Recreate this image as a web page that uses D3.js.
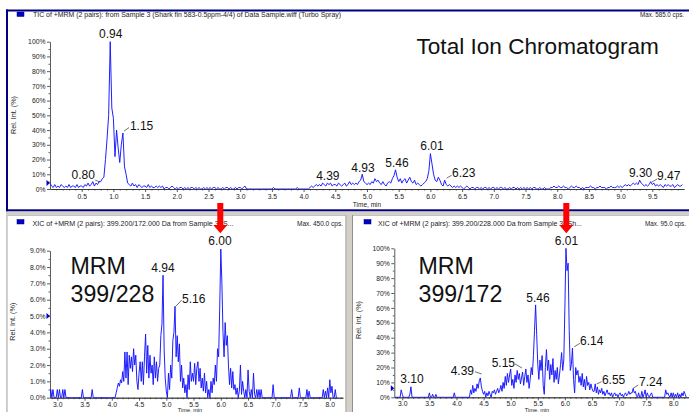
<!DOCTYPE html>
<html><head><meta charset="utf-8">
<script src="https://cdn.jsdelivr.net/npm/d3@7"></script>
<style>
html,body{margin:0;padding:0;background:#fff;overflow:hidden}
svg{display:block}
</style></head><body>
<svg id="chart" width="689" height="412"></svg>
<script>
// ================= DATA =================
// Total ion chromatogram (relative intensity %), one reading every 0.025 min from 0 min
const ticStart = 0, ticStep = 0.025;
const ticValues = [
 4,2,1,3,1,2,1,3,2,1,2,1,3,1,2,2,1,3,1,2,
 2,1,3,2,4,2,3,5,2,4,3,5,5,7,8,20,34,50,100,55,
 48,22,40,28,18,30,38,15,10,4,3,2,4,2,3,1,3,2,1,2,
 2,1,3,1,2,1,1,2,1,2,1,2,0,1,1,0,1,2,1,0,
 1,0,1,1,0,1,0,1,0,1,1,0,1,0,1,0,0,1,0,1,
 0,1,0,1,1,0,1,0,0,1,0,1,1,0,1,0,0,1,0,1,
 1,0,1,2,0,0,0,0,0,0,0,0,0,0,0,0,0,0,0,0,
 0,1,0,0,0,0,0,0,0,0,0,0,0,0,0,0,1,0,0,0,
 0,0,0,0,1,2,1,2,3,2,3,2,4,3,2,4,3,4,2,3,
 3,2,4,3,2,3,4,2,3,5,3,4,3,4,3,5,6,10,5,4,
 3,4,3,5,4,7,5,6,4,3,5,3,2,4,5,4,7,9,13,8,
 5,7,4,6,7,4,6,8,5,4,6,3,4,3,2,3,4,5,7,12,
 24,17,10,6,5,8,6,3,2,6,3,2,3,2,1,2,1,2,1,2,
 1,0,1,2,1,0,1,1,0,1,1,0,1,0,1,1,0,1,0,1,
 1,0,1,0,1,1,0,1,0,0,1,0,1,1,0,1,0,1,0,1,
 0,1,0,1,0,1,1,0,0,1,0,0,1,0,0,0,1,1,2,1,
 1,2,1,1,2,1,1,0,1,2,1,1,2,1,1,0,1,0,1,1,
 1,2,1,1,0,1,1,2,1,1,1,0,1,1,2,1,1,1,2,1,
 2,1,2,3,2,3,2,3,4,3,4,3,6,4,3,2,3,2,3,5,
 3,4,2,3,2,3,2,1,3,2,3,2,2,3,1,2,3,2,2,3
];
// XIC traces, one reading every 0.02 min from 2.86 min
const xicStart = 2.86, xicStep = 0.02;
const mrm228Values = [ // left panel (%), 2.86 .. 8.14
 0,0.5,0,0.5,0,0,0,
 0.5,0,0.5,0,0,0.5,0,0.5,0,0, 0,0,0,0,0,0,0,0,0,0, 0,0,0,0.5,0,
 0,0,0,0,0,0,0,0.5,0,0, 0,0,0,0,0,0,0,0,0,0, 0,0,0,0,0,
 0,0,0,0,0.3,0.6,0.9,0.7,1.1,0.9, 1.6,1.0,2.8,1.2,2.8,0.8,2.6,1.8,2.5,1.6, 3.0,2.0,2.6,1.0,0.5,
 1.5,2.2,1.0,2.2,0.8,2.5,3.9,1.5,3.2,1.2, 2.6,1.5,2.0,0.8,2.5,1.2,2.2,1.0,1.8,2.0, 3.8,4.5,7.5,3.0,1.2,
 0.4,0,1.5,0.5,2.0,1.2,3.5,4.0,5.6,2.5, 3.8,2.2,3.3,1.0,2.0,0.6,1.2,0.3,0.8,0, 1.4,0.5,2.2,1.0,1.5,
 1.0,2.1,0.8,1.8,2.2,1.0,1.8,0.6,1.2,0.4, 1.5,0.3,1.0,0,0.5,0,1.0,0.3,1.2,0.8, 2.0,1.0,3.0,2.5,5.5,
 9.1,7.0,4.0,2.5,4.6,3.2,3.8,2.0,0.8,1.8, 0.6,1.6,0.5,0.8,0.2,0.6,0,0.4,2.0,0.2, 1.0,0.4,0,0.5,0,
 1.7,0.4,0,0.5,0,1.5,0.2,0,0.5,0, 0.5,0,0.5,0,0,0,0,0,0,0, 0,0,0,0.8,0,
 0,0,0,0,0,0,0,0,0,0, 0,0,0,0,0,0.5,0,0,0,0, 0,0,0.6,0,0,
 0,0,0,0,0.5,0,0.4,0,0,0, 0,0,0,0,0,0,0,0,0,0.5, 0,0.4,0,0.6,0,
 1.1,0.3,0.7,0,0,0.5,0,0
];
const mrm172Values = [ // right panel (%), 2.86 .. 8.24
 0,0,0,0,0,0,5,
 2,0,0,0,0,0,0,2,7,0, 0,0,0,0,0,0,0,0,0,0, 0,0,0,0,0,
 3,0,0,2,0,0,2,0,0,0, 0,0,0,0,0,0,0,0,0,0, 0,0,0,3,0,
 0,0,0,0,0,0,0,0,0,0, 0,0,0,5,2,8,3,6,4,9, 6,11,13,7,4,
 2,4,0,3,1,4,2,0,4,3, 5,2,4,6,3,5,8,4,10,6, 14,8,16,10,15,
 19,8,12,6,15,10,18,12,16,9, 13,17,8,14,19,10,15,6,12,20, 15,28,45,62,42,
 22,12,25,18,28,8,2,20,32,18, 25,12,22,15,26,10,18,12,20,9, 15,22,30,18,25,
 60,100,85,90,45,18,22,33,12,3, 20,15,18,10,14,8,16,7,12,5, 14,8,10,5,9,
 6,4,4,9,3,7,2,5,3,6, 2,4,1,3,5,2,3,1,3,0, 2,3,1,2,0,
 2,3,1,2,0,2,3,1,2,4, 2,3,3,6,3,4,1,0,3,0, 0,4,0,2,5,
 0,3,1,0,2,3,0,0,0,0, 0,0,0,0,0,0,0,0,5,2, 3,1,0,3,0,
 3,0,2,0,3,0,2,0,3,1,4,2,0
];
// tick labels
const ticXTicks = [0.5,1.0,1.5,2.0,2.5,3.0,3.5,4.0,4.5,5.0,5.5,6.0,6.5,7.0,7.5,8.0,8.5,9.0,9.5];
const ticYTicks = [0,10,20,30,40,50,60,70,80,90,100];
const xicXTicks = [3.0,3.5,4.0,4.5,5.0,5.5,6.0,6.5,7.0,7.5,8.0];
const mrm228YTicks = [0,1,2,3,4,5,6,7,8,9];
const mrm172YTicks = [0,10,20,30,40,50,60,70,80,90,100];
// peak annotations (retention time label, time of the apex in the trace)
const ticPeaks = [
 {text:"0.94", t:0.95},{text:"1.15", t:1.15},{text:"0.80", t:0.80},{text:"4.39", t:4.375},
 {text:"4.93", t:4.925},{text:"5.46", t:5.45},{text:"6.01", t:6.0},{text:"6.23", t:6.225},
 {text:"9.30", t:9.3},{text:"9.47", t:9.475}
];
const mrm228Peaks = [{text:"6.00", t:6.0},{text:"4.94", t:4.94},{text:"5.16", t:5.16}];
const mrm172Peaks = [
 {text:"6.01", t:6.02},{text:"5.46", t:5.46},{text:"6.14", t:6.14},{text:"5.15", t:5.22},
 {text:"4.39", t:4.44},{text:"3.10", t:3.16},{text:"6.55", t:6.56},{text:"7.24", t:7.26}
];
const ticTitle = "TIC of +MRM (2 pairs): from Sample 3 (Shark fin 583-0.5ppm-4/4) of Data Sample.wiff (Turbo Spray)";
const ticMax = "Max. 585.0 cps.";
const mrm228Title = "XIC of +MRM (2 pairs): 399.200/172.000 Da  from Sample 3 (S...";
const mrm228Max = "Max. 450.0 cps.";
const mrm172Title = "XIC of +MRM (2 pairs): 399.200/228.000 Da  from Sample 3 (Sh...";
const mrm172Max = "Max. 95.0 cps.";

// ================= DRAWING =================
const FONT = '"Liberation Sans", Arial, Helvetica, sans-serif';
const svg = d3.select("#chart");
const LINE = "#1414ff";

// window chrome
svg.append("rect").attr("x",0).attr("y",0).attr("width",689).attr("height",412).attr("fill","#fff");
// top panel frame (navy)
svg.append("rect").attr("x",6).attr("y",9.5).attr("width",683).attr("height",2).attr("fill","#000080");
svg.append("rect").attr("x",6).attr("y",9.5).attr("width",2).attr("height",202).attr("fill","#000080");
svg.append("rect").attr("x",6).attr("y",209.3).attr("width",683).attr("height",2.2).attr("fill","#000080");
svg.append("rect").attr("x",6).attr("y",211.5).attr("width",683).attr("height",3.8).attr("fill","#d4d0c8");
svg.append("rect").attr("x",6).attr("y",215).attr("width",683).attr("height",0.8).attr("fill","#b8b8b8");
// bottom frames
svg.append("rect").attr("x",6).attr("y",215).attr("width",1.8).attr("height",197).attr("fill","#c8c8c8");
svg.append("rect").attr("x",345.5).attr("y",215).attr("width",7.5).attr("height",197).attr("fill","#d4d0c8");
svg.append("rect").attr("x",345.5).attr("y",215).attr("width",1).attr("height",197).attr("fill","#a8a8a8");
svg.append("rect").attr("x",352).attr("y",215).attr("width",1).attr("height",197).attr("fill","#909090");

function smallText(x, y, str, len, anchor){
  const t = svg.append("text").attr("x",x).attr("y",y).text(str)
    .attr("font-family",FONT).attr("font-size",6.8).attr("fill","#222")
    .attr("text-anchor",anchor||"start");
  if(len) t.attr("textLength",len).attr("lengthAdjust","spacingAndGlyphs");
  return t;
}

function drawPanel(o){
  const g = svg.append("g");
  const x = d3.scaleLinear().domain(o.xDomain).range(o.xRange);
  const y = d3.scaleLinear().domain(o.yDomain).range(o.yRange);
  const data = o.values.map((v,i)=>({t:o.start+i*o.step, v:v}));

  // legend square + titles
  svg.append("rect").attr("x",o.legend[0]).attr("y",o.legend[1]).attr("width",7).attr("height",4.5)
    .attr("fill","#0000d0").attr("stroke","#000060").attr("stroke-width",0.5);
  smallText(o.titlePos[0], o.titlePos[1], o.title, o.titleLen);
  smallText(o.maxPos[0], o.maxPos[1], o.max, o.maxLen);

  // axes
  const gy = g.append("g").attr("transform",`translate(${o.xRange[0]},0)`)
    .call(d3.axisLeft(y).tickValues(o.yTicks).tickSize(3).tickPadding(1.5).tickFormat(o.yFmt).tickSizeOuter(0));
  const gx = g.append("g").attr("transform",`translate(0,${o.yRange[0]})`)
    .call(d3.axisBottom(x).tickValues(o.xTicks).tickSize(3).tickPadding(o.xPad).tickFormat(d3.format(".1f")).tickSizeOuter(0));
  const gm = g.append("g").attr("transform",`translate(0,${o.yRange[0]})`)
    .call(d3.axisBottom(x).tickValues(o.xMinor).tickSize(1.5).tickFormat("").tickSizeOuter(0));
  const gym = g.append("g").attr("transform",`translate(${o.xRange[0]},0)`)
    .call(d3.axisLeft(y).tickValues(o.yMinor).tickSize(1.5).tickFormat("").tickSizeOuter(0));
  gym.select(".domain").remove();
  [gx,gy,gm,gym].forEach(a=>a.attr("color","#333").attr("font-family",FONT).attr("font-size",6.8));
  [gx,gy,gm,gym].forEach(a=>a.selectAll("line,path").attr("stroke-width",0.8));
  gx.selectAll("text").attr("fill","#222");
  gy.selectAll("text").attr("fill","#222");

  // axis titles
  g.append("text").attr("transform",`translate(${o.yTitlePos[0]},${o.yTitlePos[1]}) rotate(-90)`)
    .attr("text-anchor","middle").attr("font-family",FONT).attr("font-size",7.2).attr("fill","#222").text("Rel. Int. (%)");
  g.append("text").attr("x",o.xTitlePos[0]).attr("y",o.xTitlePos[1]).attr("text-anchor","middle")
    .attr("font-family",FONT).attr("font-size",o.xTitleSize).attr("fill","#222").text("Time, min");

  // threshold marker
  const my = y(o.markerV), mx = o.xRange[0];
  g.append("path").attr("d",`M${mx-3.5},${my-3}L${mx},${my}L${mx-3.5},${my+3}Z`).attr("fill","#0000c8");

  // trace
  const clipId = o.id + "-clip";
  svg.append("clipPath").attr("id",clipId).append("rect")
    .attr("x",o.xRange[0]).attr("y",o.yRange[1]-6).attr("width",o.xRange[1]-o.xRange[0]).attr("height",o.yRange[0]-o.yRange[1]+6.5);
  g.append("path").datum(data).attr("clip-path",`url(#${clipId})`)
    .attr("d", d3.line().x(d=>x(d.t)).y(d=>y(d.v)))
    .attr("fill","none").attr("stroke",LINE).attr("stroke-width",0.95).attr("stroke-linejoin","miter");

  // peak labels
  o.peaks.forEach(p=>{
    const idx = Math.round((p.t - o.start)/o.step);
    const px = x(p.t), py = y(o.values[idx]);
    const L = o.layout[p.text];
    g.append("text").attr("x",px+L.dx).attr("y",py+L.dy).attr("text-anchor",L.a)
      .attr("font-family",FONT).attr("font-size",12).attr("fill","#111").text(p.text);
    if(L.ld){
      g.append("line").attr("x1",px+L.ld[0]).attr("y1",py+L.ld[1]).attr("x2",px+L.ld[2]).attr("y2",py+L.ld[3])
        .attr("stroke","#333").attr("stroke-width",0.7);
    }
  });

  // big caption
  o.captions.forEach(c=>{
    g.append("text").attr("x",c.x).attr("y",c.y).attr("font-family",FONT).attr("font-size",c.size)
      .attr("fill","#111").text(c.text);
  });
}

const ticMinor = d3.range(1,100).map(i=>i/10).filter(v=>Math.abs(v*2-Math.round(v*2))>1e-6);
const xicMinor = d3.range(29,83).map(i=>i/10).filter(v=>Math.abs(v*2-Math.round(v*2))>1e-6);

drawPanel({
  id:"tic", values:ticValues, start:ticStart, step:ticStep,
  xDomain:[0,10.0], xRange:[50,684], yDomain:[0,100], yRange:[189,41.7],
  xTicks:ticXTicks, xMinor:ticMinor, yTicks:ticYTicks, yMinor:d3.range(5,100,10), yFmt:d=>d+"%", xPad:2,
  legend:[17,12], title:ticTitle, titlePos:[33,17.3], titleLen:308, max:ticMax, maxPos:[640,16.7], maxLen:44,
  yTitlePos:[15.5,115], xTitlePos:[367,207], xTitleSize:6.5, markerV:4,
  peaks:ticPeaks,
  layout:{
    "0.94":{a:"middle",dx:0.5,dy:-4},
    "1.15":{a:"start",dx:7,dy:-3,ld:[1.2,-2,6.2,-5.5]},
    "0.80":{a:"end",dx:-5.8,dy:-2.6,ld:[-5.5,-1.6,-0.7,0.4]},
    "4.39":{a:"middle",dx:0.5,dy:-3},
    "4.93":{a:"middle",dx:0.8,dy:-2.5},
    "5.46":{a:"middle",dx:1.5,dy:-3},
    "6.01":{a:"middle",dx:1.5,dy:-3.5},
    "6.23":{a:"start",dx:7.3,dy:-3.5,ld:[2,-2,7,-5]},
    "9.30":{a:"middle",dx:1,dy:-3.5},
    "9.47":{a:"start",dx:6.3,dy:-1.6,ld:[1.3,0.4,6.3,-2.6]}
  },
  captions:[{text:"Total Ion Chromatogram", x:416.5, y:54, size:22.6}]
});

drawPanel({
  id:"m228", values:mrm228Values, start:xicStart, step:xicStep,
  xDomain:[2.866,8.242], xRange:[50,343], yDomain:[0,9], yRange:[397.7,250.7],
  xTicks:xicXTicks, xMinor:xicMinor, yTicks:mrm228YTicks, yMinor:d3.range(0.5,9,1), yFmt:d=>d.toFixed(1)+"%", xPad:1,
  legend:[17,219.5], title:mrm228Title, titlePos:[32.5,225.7], titleLen:201, max:mrm228Max, maxPos:[297,225.7], maxLen:46,
  yTitlePos:[15,321.7], xTitlePos:[190,411.8], xTitleSize:5.6, markerV:5,
  peaks:mrm228Peaks,
  layout:{
    "6.00":{a:"middle",dx:-0.8,dy:-4},
    "4.94":{a:"middle",dx:0,dy:-3.5},
    "5.16":{a:"start",dx:7,dy:-2.9,ld:[1,-0.2,6.7,-6.2]}
  },
  captions:[{text:"MRM", x:70.5, y:274, size:23.2},{text:"399/228", x:70.5, y:301.7, size:23.2}]
});

drawPanel({
  id:"m172", values:mrm172Values, start:xicStart, step:xicStep,
  xDomain:[2.853,8.29], xRange:[394.3,689], yDomain:[0,100], yRange:[397.3,248.3],
  xTicks:xicXTicks, xMinor:xicMinor, yTicks:mrm172YTicks, yMinor:d3.range(5,100,10), yFmt:d=>d+"%", xPad:1,
  legend:[364,219.5], title:mrm172Title, titlePos:[378,225.7], titleLen:204, max:mrm172Max, maxPos:[645,225.7], maxLen:41,
  yTitlePos:[360.5,320], xTitlePos:[537,411.8], xTitleSize:5.6, markerV:6,
  peaks:mrm172Peaks,
  layout:{
    "6.01":{a:"middle",dx:0.5,dy:-3.3},
    "5.46":{a:"middle",dx:2.4,dy:-3.2},
    "6.14":{a:"start",dx:7.5,dy:-3.1,ld:[1.8,-1.4,7.5,-4.8]},
    "5.15":{a:"end",dx:-7.6,dy:-5.3,ld:[-7.6,-8,-0.6,-4]},
    "4.39":{a:"end",dx:-6.3,dy:-2.9,ld:[-5.3,-6.2,1.4,-3.9]},
    "3.10":{a:"middle",dx:1,dy:-4.2},
    "6.55":{a:"start",dx:6.7,dy:0.1,ld:[1.4,0.1,6.4,-2.2]},
    "7.24":{a:"start",dx:5.8,dy:-2.4,ld:[0.1,-0.1,5.1,-3.4]}
  },
  captions:[{text:"MRM", x:418.5, y:274, size:23.2},{text:"399/172", x:418.5, y:301.7, size:23.2}]
});

// red arrows linking TIC to the XIC panels
function arrow(cx){
  const p = d3.path();
  p.moveTo(cx-3,203); p.lineTo(cx+3,203); p.lineTo(cx+3,225); p.lineTo(cx+7,225);
  p.lineTo(cx,233.3); p.lineTo(cx-7,225); p.lineTo(cx-3,225); p.closePath();
  svg.append("path").attr("d",p.toString()).attr("fill","#ff0000");
}
arrow(220.3);
arrow(566.3);
</script>
</body></html>
